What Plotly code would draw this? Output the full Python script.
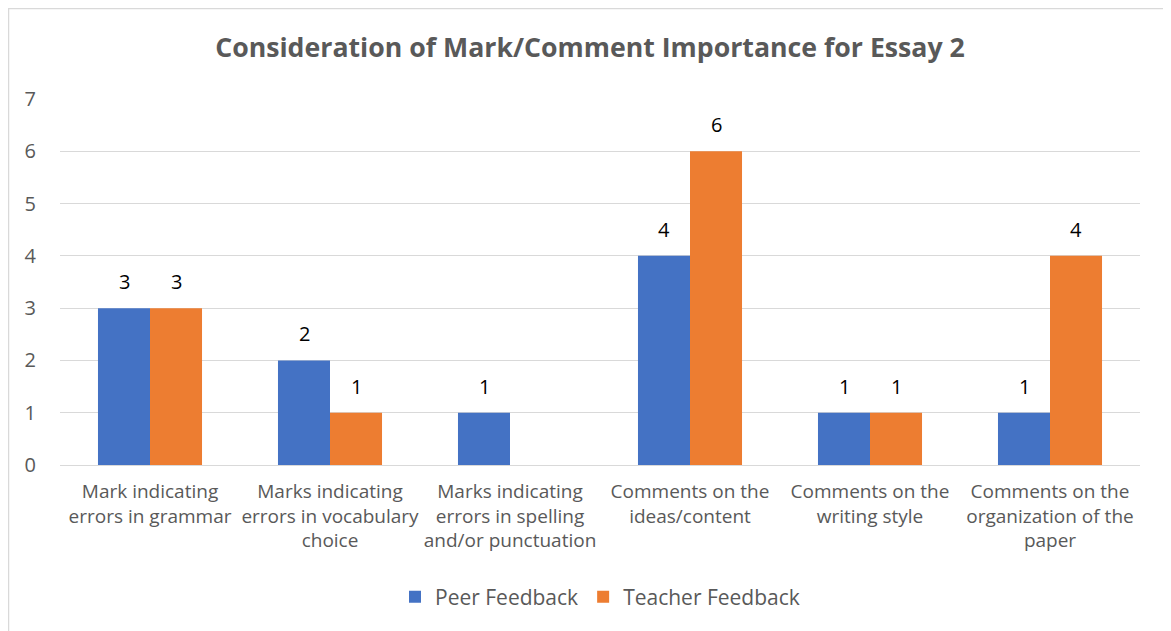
import plotly.graph_objects as go

categories = [
    "Mark indicating<br>errors in grammar",
    "Marks indicating<br>errors in vocabulary<br>choice",
    "Marks indicating<br>errors in spelling<br>and/or punctuation",
    "Comments on the<br>ideas/content",
    "Comments on the<br>writing style",
    "Comments on the<br>organization of the<br>paper",
]
peer = [3, 2, 1, 4, 1, 1]
teacher = [3, 1, 0, 6, 1, 4]
y_ticks = [0, 1, 2, 3, 4, 5, 6, 7]

FONT = "Open Sans"
GRAY = "#595959"
W, H = 1163, 623
L, R, T, B = 52, 31, 91, 166
PW, PH = W - L - R, H - T - B

fig = go.Figure()
fig.add_trace(go.Bar(
    name="Peer Feedback", x=categories, y=peer,
    marker=dict(color="#4472C4", line=dict(width=0)),
))
fig.add_trace(go.Bar(
    name="Teacher Feedback", x=categories, y=teacher,
    marker=dict(color="#ED7D31", line=dict(width=0)),
))

annotations = []
for vals, shift in ((peer, -26), (teacher, 26)):
    for c, v in zip(categories, vals):
        if v:
            annotations.append(dict(
                x=c, y=v, xref="x", yref="y", text=str(v), showarrow=False,
                xshift=shift, yshift=11, yanchor="bottom",
                font=dict(family=FONT, size=20, color="#000000"),
            ))

fig.update_layout(
    width=W, height=H,
    margin=dict(l=L, r=R, t=T, b=B),
    paper_bgcolor="white", plot_bgcolor="white",
    barmode="group", bargap=0.422, bargroupgap=0,
    font=dict(family=FONT, color=GRAY),
    title=dict(
        text="<b>Consideration of Mark/Comment Importance for Essay 2</b>",
        x=(590 - 8) / W, xanchor="center", y=1 - 40 / H, yanchor="middle",
        font=dict(family=FONT, size=26.7, color=GRAY),
    ),
    legend=dict(
        orientation="h", x=0.5, xanchor="center",
        y=-(597 - 465) / PH, yanchor="middle",
        font=dict(family=FONT, size=21, color=GRAY),
        itemwidth=30, traceorder="normal",
    ),
    showlegend=True,
    annotations=annotations,
    shapes=[dict(
        type="rect", xref="paper", yref="paper",
        x0=(0.5 - L) / PW, x1=(W - 1 - L) / PW,
        y0=-0.6, y1=(T + PH - 0.5) / PH,
        line=dict(color="#d9d9d9", width=1.5), layer="below",
    )],
)
fig.update_xaxes(
    showline=False, showgrid=False, ticks="", ticklabelstandoff=13,
    tickfont=dict(family=FONT, size=19, color=GRAY),
)
fig.update_yaxes(
    range=[0, 7], tickvals=y_ticks, showgrid=True, gridcolor="#d9d9d9",
    gridwidth=1, zeroline=True, zerolinecolor="#d9d9d9", zerolinewidth=1,
    showline=False, ticks="", ticklabelstandoff=23,
    tickfont=dict(family=FONT, size=20, color=GRAY),
)

fig.write_html("out.html")
